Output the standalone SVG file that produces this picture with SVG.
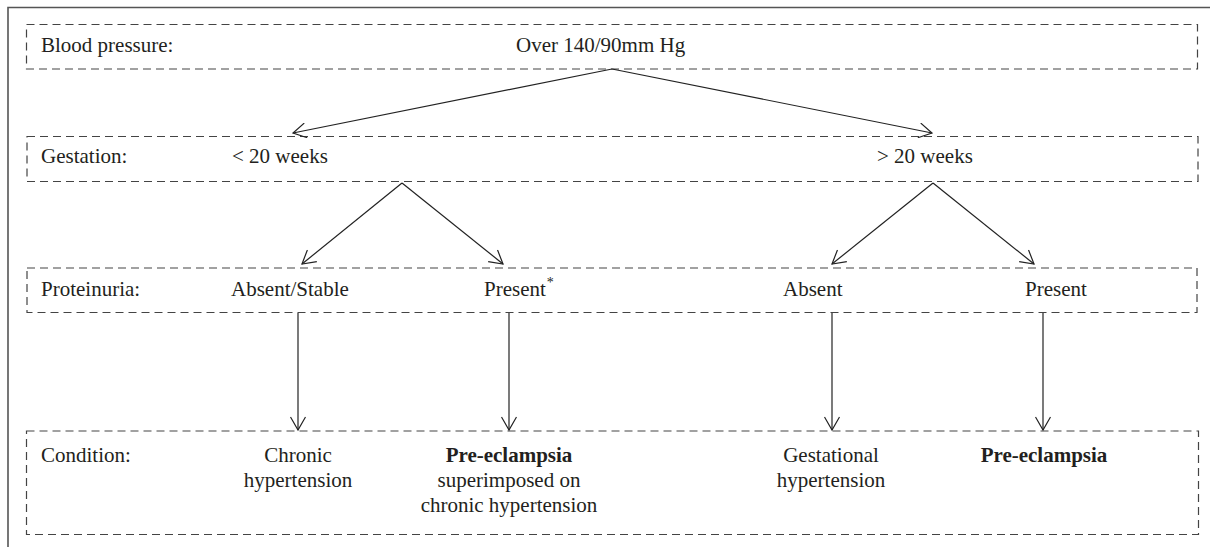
<svg xmlns="http://www.w3.org/2000/svg" width="1210" height="547" viewBox="0 0 1210 547">
  <defs>
    <marker id="arr" markerUnits="userSpaceOnUse" markerWidth="16" markerHeight="16" viewBox="0 0 16 16" refX="14" refY="8" orient="auto">
      <path d="M1,0.5 L14,8 L1,15.5" fill="none" stroke="#222" stroke-width="1.2"/>
    </marker>
    <style>
      .frame { fill: none; stroke: #555; stroke-width: 1.6; }
      .box { fill: none; stroke: #444; stroke-width: 1.2; stroke-dasharray: 8 5; }
      .conn { fill: none; stroke: #222; stroke-width: 1.2; marker-end: url(#arr); }
      text { font-family: "Liberation Serif", "Times New Roman", serif; font-size: 21px; fill: #231f20; }
      .mid { text-anchor: middle; }
      .b { font-weight: bold; }
    </style>
  </defs>
  <rect width="1210" height="547" fill="#ffffff"/>
  <path class="frame" d="M8,547 L8,7.5 L1210,7.5"/>

  <g id="row-blood-pressure">
    <rect class="box" x="26.5" y="24.5" width="1171" height="44.5"/>
    <text x="41" y="52">Blood pressure:</text>
    <text x="516" y="52">Over 140/90mm Hg</text>
  </g>

  <g id="row-gestation">
    <rect class="box" x="27" y="136.5" width="1171" height="45"/>
    <text x="41" y="163">Gestation:</text>
    <text x="232" y="163">&lt; 20 weeks</text>
    <text x="877" y="163">&gt; 20 weeks</text>
  </g>

  <g id="row-proteinuria">
    <rect class="box" x="27" y="268" width="1170" height="44.5"/>
    <text x="41" y="296">Proteinuria:</text>
    <text x="231" y="296">Absent/Stable</text>
    <text x="484" y="296">Present<tspan font-size="14" dx="1" dy="-9">*</tspan></text>
    <text x="783" y="296">Absent</text>
    <text x="1025" y="296">Present</text>
  </g>

  <g id="row-condition">
    <rect class="box" x="26.5" y="431" width="1172" height="103.5"/>
    <text x="41" y="461.5">Condition:</text>
    <text class="mid" x="298" y="461.5">Chronic</text>
    <text class="mid" x="298" y="486.5">hypertension</text>
    <text class="mid b" x="509" y="461.5">Pre-eclampsia</text>
    <text class="mid" x="509" y="486.5">superimposed on</text>
    <text class="mid" x="509" y="511.5">chronic hypertension</text>
    <text class="mid" x="831" y="461.5">Gestational</text>
    <text class="mid" x="831" y="486.5">hypertension</text>
    <text class="mid b" x="1044" y="461.5">Pre-eclampsia</text>
  </g>

  <g id="connectors">
    <line class="conn" x1="612" y1="69" x2="293" y2="133"/>
    <line class="conn" x1="612" y1="69" x2="932" y2="133"/>
    <line class="conn" x1="402" y1="183" x2="302" y2="264"/>
    <line class="conn" x1="402" y1="183" x2="503" y2="264"/>
    <line class="conn" x1="933" y1="183" x2="832" y2="264"/>
    <line class="conn" x1="933" y1="183" x2="1034" y2="264"/>
    <line class="conn" x1="298" y1="313" x2="298" y2="430"/>
    <line class="conn" x1="509" y1="313" x2="509" y2="430"/>
    <line class="conn" x1="832" y1="313" x2="832" y2="430"/>
    <line class="conn" x1="1043" y1="313" x2="1043" y2="430"/>
  </g>
</svg>
